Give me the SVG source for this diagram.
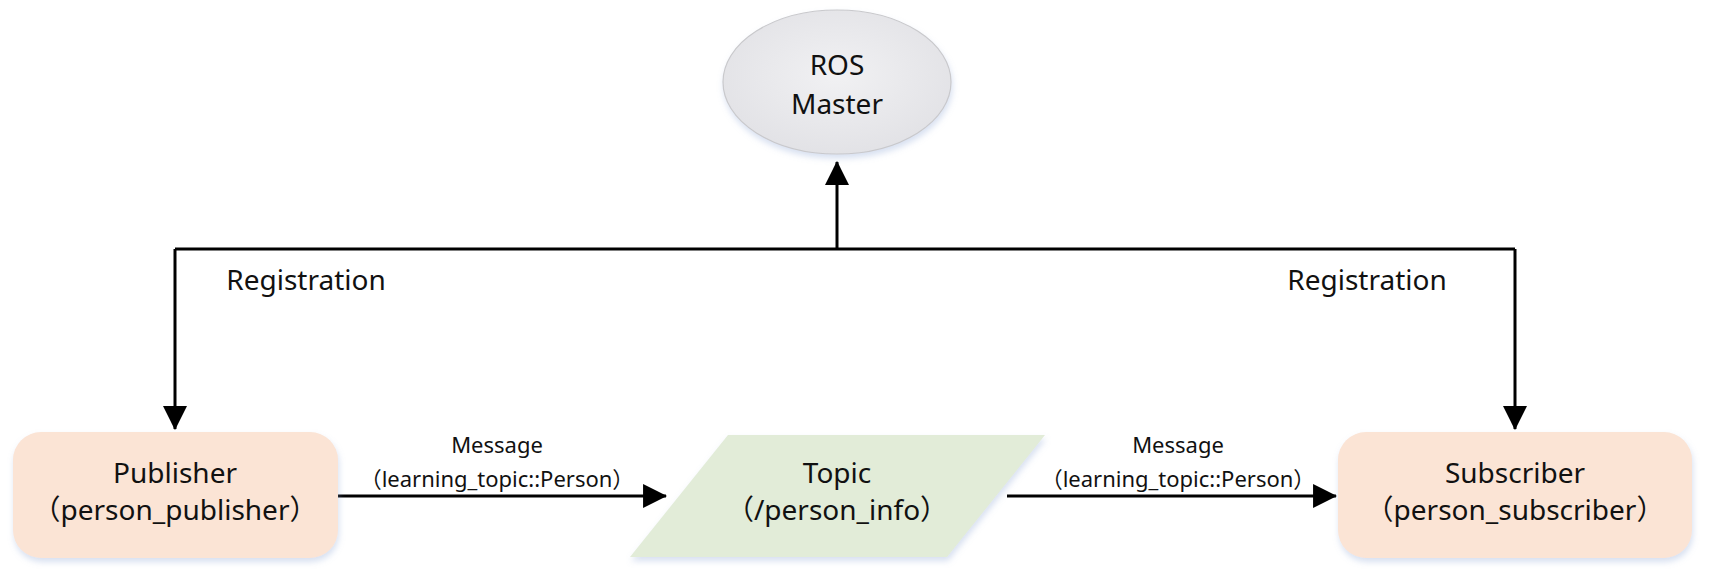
<svg xmlns="http://www.w3.org/2000/svg" width="1718" height="577" viewBox="0 0 1718 577">
  <style>
    .label { font-family: "Noto Sans", "Noto Sans CJK SC", sans-serif; fill: #111; text-anchor: middle; }
    .big { font-size: 28px; }
    .small { font-size: 22px; }
    .wire { fill: none; stroke: #000; stroke-width: 3; }
    .proc { fill: #fbe4d5; filter: url(#shadow); }
  </style>
  <defs>
    <filter id="shadow" x="-10%" y="-10%" width="120%" height="130%">
      <feDropShadow dx="1" dy="4" stdDeviation="3" flood-color="#8ea6d4" flood-opacity="0.35"/>
    </filter>
    <radialGradient id="masterFill" cx="50%" cy="45%" r="60%">
      <stop offset="0" stop-color="#f1f1f3"/>
      <stop offset="1" stop-color="#e1e1e5"/>
    </radialGradient>
    <marker id="arrow" markerUnits="userSpaceOnUse" markerWidth="24" markerHeight="24" viewBox="0 0 22 22" refX="21" refY="11" orient="auto">
      <polygon points="0,0 22,11 0,22" fill="#000"/>
    </marker>
  </defs>

  <!-- connectors -->
  <g id="connectors">
    <!-- registration bus up to the master -->
    <path class="wire" d="M175,249 H1515"/>
    <path class="wire" d="M837,249 V162" marker-end="url(#arrow)"/>
    <path class="wire" d="M175,249 V429" marker-end="url(#arrow)"/>
    <path class="wire" d="M1515,249 V429" marker-end="url(#arrow)"/>
    <!-- message flow -->
    <path class="wire" d="M338,496 H666" marker-end="url(#arrow)"/>
    <path class="wire" d="M1007,496 H1336" marker-end="url(#arrow)"/>

    <text class="label big" x="306" y="290">Registration</text>
    <text class="label big" x="1367" y="290">Registration</text>

    <text class="label small" x="497" y="453">Message</text>
    <text class="label small" x="497" y="487">（learning_topic::Person）</text>
    <text class="label small" x="1178" y="453">Message</text>
    <text class="label small" x="1178" y="487">（learning_topic::Person）</text>
  </g>

  <!-- ROS Master -->
  <g id="ros-master">
    <ellipse cx="837" cy="82" rx="114" ry="72" fill="url(#masterFill)" stroke="#c9c9cc" stroke-width="1.2" filter="url(#shadow)"/>
    <text class="label big" x="837" y="75">ROS</text>
    <text class="label big" x="837" y="114">Master</text>
  </g>

  <!-- Publisher -->
  <g id="publisher">
    <rect class="proc" x="13" y="432" width="325" height="126" rx="28" ry="28"/>
    <text class="label big" x="175" y="483">Publisher</text>
    <text class="label big" x="175" y="520">（person_publisher）</text>
  </g>

  <!-- Topic -->
  <g id="topic">
    <polygon points="728,435 1045,435 947,557 630,557" fill="#e2ecd8" filter="url(#shadow)"/>
    <text class="label big" x="837" y="483">Topic</text>
    <text class="label big" x="837" y="520">（/person_info）</text>
  </g>

  <!-- Subscriber -->
  <g id="subscriber">
    <rect class="proc" x="1338" y="432" width="354" height="126" rx="28" ry="28"/>
    <text class="label big" x="1515" y="483">Subscriber</text>
    <text class="label big" x="1515" y="520">（person_subscriber）</text>
  </g>
</svg>
